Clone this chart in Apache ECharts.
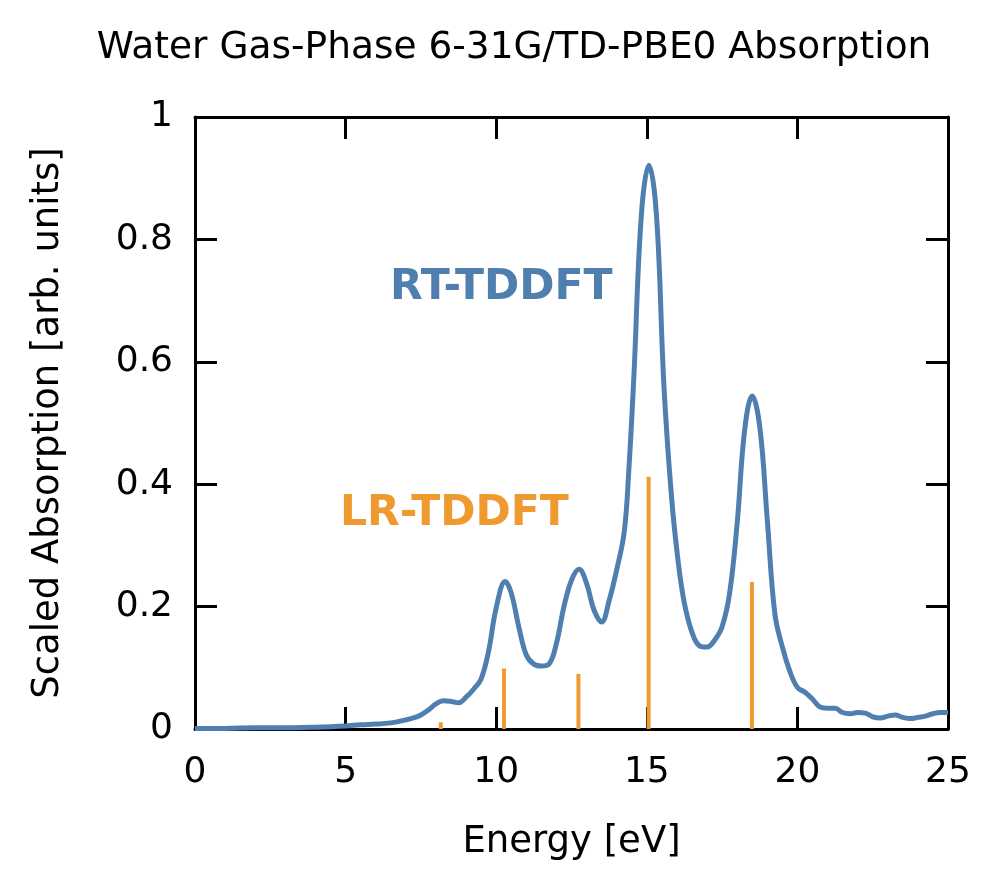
<!DOCTYPE html>
<html>
<head>
<meta charset="utf-8">
<script src="https://cdn.jsdelivr.net/npm/echarts@6/dist/echarts.min.js"></script>
<style>
  html, body { margin: 0; padding: 0; background: #ffffff; }
  #chart { width: 1000px; height: 891px; }
</style>
</head>
<body>
<div id="chart"></div>
<script>
// RT-TDDFT spectrum (energy in eV, scaled absorption)
var rtEnergy = [0, 1, 2, 3, 4, 5, 5.5, 6.0, 6.5, 7.0, 7.25, 7.5, 7.75, 8.0, 8.25, 8.5, 8.75, 9.0, 9.25, 9.5, 9.75, 10.0, 10.3, 10.5, 10.75, 11.0, 11.25, 11.5, 11.75, 12.0, 12.25, 12.5, 12.75, 13.0, 13.25, 13.5, 13.75, 14.0, 14.25, 14.4, 14.57, 14.82, 15.07, 15.32, 15.57, 15.82, 16.05, 16.25, 16.5, 16.75, 17.0, 17.25, 17.5, 17.75, 18.0, 18.25, 18.5, 18.75, 19.0, 19.25, 19.5, 19.75, 20.0, 20.25, 20.5, 20.75, 21.0, 21.25, 21.5, 21.75, 22.0, 22.25, 22.5, 22.75, 23.0, 23.25, 23.5, 23.75, 24.0, 24.25, 24.5, 24.75, 25.0];
var rtValue  = [0.001, 0.001, 0.002, 0.002, 0.003, 0.005, 0.007, 0.008, 0.010, 0.015, 0.018, 0.023, 0.031, 0.041, 0.046, 0.045, 0.043, 0.052, 0.065, 0.082, 0.128, 0.198, 0.241, 0.222, 0.167, 0.121, 0.106, 0.103, 0.106, 0.140, 0.200, 0.243, 0.261, 0.238, 0.194, 0.175, 0.210, 0.260, 0.322, 0.420, 0.575, 0.840, 0.921, 0.840, 0.560, 0.380, 0.270, 0.205, 0.158, 0.136, 0.134, 0.145, 0.167, 0.222, 0.336, 0.489, 0.544, 0.494, 0.342, 0.189, 0.134, 0.094, 0.068, 0.060, 0.049, 0.036, 0.034, 0.034, 0.027, 0.025, 0.027, 0.026, 0.020, 0.018, 0.021, 0.023, 0.019, 0.017, 0.019, 0.021, 0.025, 0.027, 0.027];

// LR-TDDFT excitations (stick spectrum)
var lrEnergy = [8.16, 10.26, 12.73, 15.06, 18.49];
var lrValue  = [0.011, 0.099, 0.090, 0.412, 0.240];

var xTicks = [0, 5, 10, 15, 20, 25];
var yTicks = [0, 0.2, 0.4, 0.6, 0.8, 1];

var titleText = 'Water Gas-Phase 6-31G/TD-PBE0 Absorption';
var xName = 'Energy [eV]';
var yName = 'Scaled Absorption [arb. units]';

var blue = '#4f7fae';
var orange = '#ee9a30';
var font = 'DejaVu Sans';

var rtData = rtEnergy.map(function (x, i) { return [x, rtValue[i]]; });
var lrData = lrEnergy.map(function (x, i) { return [x, lrValue[i]]; });

var chart = echarts.init(document.getElementById('chart'), null, { renderer: 'canvas' });

var tickStyle = { show: true, inside: true, length: 22, lineStyle: { color: '#000', width: 3 } };
var lineStyleAxis = { show: true, onZero: false, lineStyle: { color: '#000', width: 3 } };

chart.setOption({
  backgroundColor: '#ffffff',
  animation: false,
  title: {
    text: titleText,
    left: 509,
    top: 24,
    textAlign: 'center',
    textStyle: { fontFamily: font, fontSize: 37.5, fontWeight: 'normal', color: '#000' }
  },
  grid: { left: 195, right: 52, top: 117, bottom: 162, containLabel: false },
  xAxis: [{
    type: 'value', min: 0, max: 25, interval: 5, position: 'bottom',
    name: xName, nameLocation: 'middle', nameGap: 95,
    nameTextStyle: { fontFamily: font, fontSize: 37, color: '#000' },
    axisLine: lineStyleAxis, axisTick: tickStyle,
    axisLabel: { margin: 26, fontFamily: font, fontSize: 36, color: '#000',
      formatter: function (v) { return xTicks.indexOf(v) >= 0 ? String(v) : ''; } },
    splitLine: { show: false }
  }, {
    type: 'value', min: 0, max: 25, interval: 5, position: 'top',
    axisLine: lineStyleAxis, axisTick: tickStyle, axisLabel: { show: false }, splitLine: { show: false }
  }],
  yAxis: [{
    type: 'value', min: 0, max: 1, interval: 0.2, position: 'left',
    name: yName, nameLocation: 'middle', nameGap: 128,
    nameTextStyle: { fontFamily: font, fontSize: 37, color: '#000' },
    axisLine: lineStyleAxis, axisTick: tickStyle,
    axisLabel: { margin: 22, fontFamily: font, fontSize: 36, color: '#000',
      formatter: function (v) {
        for (var i = 0; i < yTicks.length; i++) { if (Math.abs(yTicks[i] - v) < 1e-9) return String(yTicks[i]); }
        return '';
      } },
    splitLine: { show: false }
  }, {
    type: 'value', min: 0, max: 1, interval: 0.2, position: 'right',
    axisLine: lineStyleAxis, axisTick: tickStyle, axisLabel: { show: false }, splitLine: { show: false }
  }],
  series: [{
    name: 'LR-TDDFT',
    type: 'bar',
    xAxisIndex: 0, yAxisIndex: 0,
    data: lrData,
    barWidth: 4,
    itemStyle: { color: orange },
    z: 2
  }, {
    name: 'RT-TDDFT',
    type: 'line',
    xAxisIndex: 0, yAxisIndex: 0,
    data: rtData,
    smooth: 0.4,
    showSymbol: false,
    symbol: 'none',
    lineStyle: { color: blue, width: 5 },
    z: 3
  }],
  graphic: [{
    type: 'text', left: 390, top: 266,
    style: { text: 'RT-TDDFT', fill: blue, font: 'bold 42.5px "DejaVu Sans"' }
  }, {
    type: 'text', left: 340, top: 492,
    style: { text: 'LR-TDDFT', fill: orange, font: 'bold 42.5px "DejaVu Sans"' }
  }]
});
</script>
</body>
</html>
